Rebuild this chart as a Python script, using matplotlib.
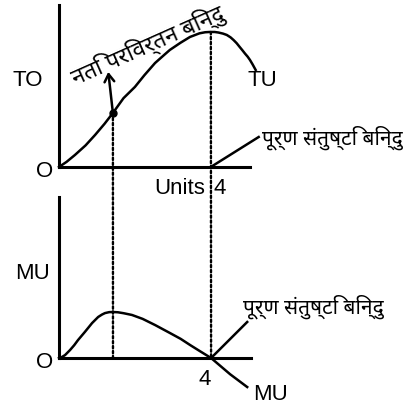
import matplotlib.pyplot as plt
from matplotlib.patches import ConnectionPatch

# --- values ---
# total utility curve (TU)
tu_units = [0, 0.2, 0.42, 0.7, 0.95, 1.2, 1.42, 1.7, 2.0, 2.25, 2.53, 2.75,
            2.92, 3.2, 3.45, 3.7, 3.85, 3.97, 4.1, 4.2, 4.32, 4.42, 4.52,
            4.6, 4.68, 4.76, 4.83, 4.9, 4.97, 5.03, 5.1, 5.18]
tu_values = [0, 0.38, 0.89, 1.6, 2.37, 3.2, 4.0, 5.1, 5.93, 6.8, 7.7, 8.25,
             8.67, 9.2, 9.63, 9.9, 9.98, 10.0, 10.0, 9.96, 9.88, 9.78, 9.6,
             9.4, 9.17, 8.89, 8.65, 8.4, 8.17, 7.93, 7.6, 7.19]

# marginal utility curve (MU)
mu_units = [0, 0.08, 0.16, 0.29, 0.4, 0.5, 0.68, 0.87, 1.03, 1.13, 1.21,
            1.32, 1.42, 1.55, 1.7, 1.92, 2.2, 2.53, 2.92, 3.2, 3.45, 3.7,
            4.0, 4.5, 4.95]
mu_values = [0, 0.08, 0.22, 0.59, 0.95, 1.33, 1.93, 2.59, 3.04, 3.22, 3.33,
             3.4, 3.41, 3.39, 3.32, 3.19, 2.9, 2.44, 1.85, 1.42, 0.96, 0.52,
             0, -1.2, -2.15]

inflection_x, inflection_tu = 1.42, 4.0
satiety_x, satiety_tu = 4.0, 10.0
satiety_label = "पूर्ण संतुष्टि बिन्दु"
inflection_label = "नति परिवर्तन बिन्दु"

latin = dict(family="Liberation Sans", fontsize=16)
hindi = dict(family=["Noto Sans", "DejaVu Sans"], fontsize=15)

fig = plt.figure(figsize=(4.08, 4.05), dpi=100)
ax1 = fig.add_axes([0.1446, 0.5877, 0.468, 0.4])
ax2 = fig.add_axes([0.1446, 0.116, 0.4706, 0.3975])

for ax in (ax1, ax2):
    for side in ("top", "right"):
        ax.spines[side].set_visible(False)
    for side in ("left", "bottom"):
        ax.spines[side].set_linewidth(2.2)
    ax.set_xticks([])
    ax.set_yticks([])
    ax.patch.set_alpha(0)

ax1.set_xlim(0, 5.03)
ax1.set_ylim(0, 12.0)
ax2.set_xlim(0, 5.05)
ax2.set_ylim(0, 11.93)

# TU panel
ax1.plot(tu_units, tu_values, color="black", lw=1.8, clip_on=False)
ax1.plot(inflection_x, inflection_tu, "o", color="black", ms=5)
ax1.annotate("", xy=(1.29, 7.25), xytext=(inflection_x, inflection_tu),
             arrowprops=dict(arrowstyle="->,head_width=0.35,head_length=0.55",
                             color="black", lw=1.8))
ax1.plot([satiety_x, 5.26], [0, 2.22], color="black", lw=1.8, clip_on=False)
ax1.text(-0.82, 6.44, "TO", ha="center", va="center", **latin)
ax1.text(-0.39, -0.3, "O", ha="center", va="center", **latin)
ax1.text(5.37, 6.44, "TU", ha="center", va="center", **latin)
ax1.text(3.86, -1.56, "Units", ha="right", va="center", **latin)
ax1.text(4.06, -1.56, "4", ha="left", va="center", **latin)
ax1.text(5.34, 2.19, satiety_label, ha="left", va="center", **hindi)
ax1.text(2.34, 9.0, inflection_label, ha="center", va="center",
         rotation=24, family=hindi["family"], fontsize=16.5)

# MU panel
ax2.plot(mu_units, mu_values, color="black", lw=1.8, clip_on=False)
ax2.plot([satiety_x, 4.95], [0, 2.67], color="black", lw=1.8, clip_on=False)
ax2.text(-0.71, 6.3, "MU", ha="center", va="center", **latin)
ax2.text(-0.39, -0.3, "O", ha="center", va="center", **latin)
ax2.text(3.82, -1.56, "4", ha="center", va="center", **latin)
ax2.text(5.55, -2.67, "MU", ha="center", va="center", **latin)
ax2.text(4.84, 3.78, satiety_label, ha="left", va="center", **hindi)

# dotted guides running from the TU curve down through the MU panel
for x, y_top in [(inflection_x, inflection_tu), (satiety_x, satiety_tu)]:
    con = ConnectionPatch(xyA=(x, y_top), coordsA=ax1.transData,
                          xyB=(x, 0), coordsB=ax2.transData,
                          color="black", lw=1.7, linestyle=(0, (1, 1.1)))
    fig.add_artist(con)

fig.savefig("out.png", dpi=100)
